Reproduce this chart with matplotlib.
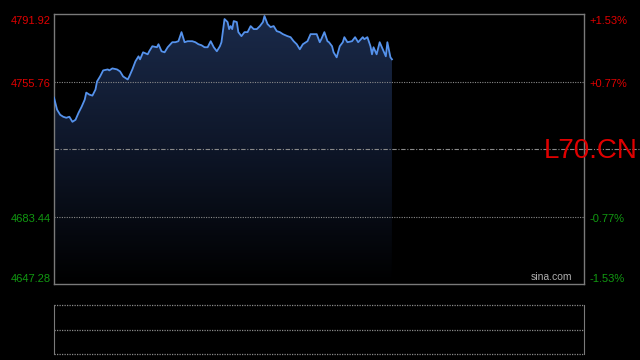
"""Intraday minute chart of L70.CN in the sina.com dark style."""

import matplotlib

matplotlib.use("Agg")
import matplotlib.pyplot as plt
import numpy as np
from matplotlib.colors import LinearSegmentedColormap
from matplotlib.lines import Line2D
from matplotlib.transforms import offset_copy

plt.rcParams["font.family"] = ["Liberation Sans", "DejaVu Sans"]

# minutes since session open (345-minute session) and last price
minutes = [
    0, 2, 4, 6, 8, 10, 12, 14, 16, 18, 20, 21, 23, 25, 27, 28, 30, 32, 35, 36,
    38, 41, 43, 45, 48, 49, 51, 53, 55, 56, 58, 61, 62, 64, 67, 68, 70, 72, 74,
    77, 79, 81, 83, 85, 87, 90, 92, 94, 96, 98, 100, 102, 104, 106, 108, 109,
    111, 113, 114, 115, 116, 117, 119, 120, 122, 124, 126, 128, 130, 132, 134,
    136, 137, 139, 141, 143, 145, 147, 149, 152, 154, 156, 158, 160, 162, 165,
    167, 169, 171, 173, 174, 176, 178, 179, 181, 182, 184, 186, 188, 189, 191,
    194, 196, 198, 201, 202, 204, 206, 207, 208, 210, 212, 214, 216, 217, 219,
    220,
]
prices = [
    4747.12, 4740.65, 4737.95, 4736.87, 4736.33, 4736.87, 4734.17, 4735.25,
    4739.03, 4742.27, 4746.05, 4749.82, 4748.74, 4748.20, 4751.44, 4755.76,
    4758.46, 4761.70, 4762.24, 4761.70, 4762.78, 4762.24, 4761.16, 4758.46,
    4756.84, 4758.46, 4762.24, 4766.55, 4769.25, 4767.63, 4771.41, 4770.33,
    4771.95, 4774.65, 4774.11, 4775.73, 4771.95, 4771.41, 4774.11, 4776.81,
    4776.81, 4777.35, 4782.21, 4776.81, 4777.35, 4777.35, 4776.81, 4775.73,
    4775.19, 4774.11, 4774.11, 4777.35, 4774.11, 4771.95, 4774.65, 4776.81,
    4789.22, 4787.60, 4783.82, 4785.44, 4783.82, 4788.14, 4787.60, 4782.21,
    4780.05, 4782.21, 4782.21, 4785.44, 4783.82, 4783.82, 4785.44, 4787.60,
    4790.84, 4786.52, 4784.90, 4785.44, 4782.74, 4782.21, 4781.13, 4780.05,
    4779.51, 4777.35, 4775.73, 4773.03, 4775.73, 4777.35, 4781.13, 4781.13,
    4781.13, 4776.81, 4778.43, 4782.21, 4777.35, 4776.81, 4774.65, 4771.41,
    4768.71, 4774.65, 4776.81, 4779.51, 4776.81, 4777.35, 4779.51, 4776.81,
    4779.51, 4778.43, 4779.51, 4774.65, 4770.33, 4774.11, 4770.33, 4776.81,
    4773.03, 4769.25, 4776.81, 4768.71, 4767.63,
]
session_minutes = 345
prev_close = 4719.60
left_ticks = [4791.92, 4755.76, 4683.44, 4647.28]
right_ticks = ["+1.53%", "+0.77%", "-0.77%", "-1.53%"]
symbol = "L70.CN"

RED = "#e00000"
GREEN = "#119911"
GRID = "#8a8a8a"
SPINE = "#7a7a7a"

fig = plt.figure(figsize=(6.4, 3.6), dpi=100, facecolor="black")
ax = fig.add_axes([54 / 640, 76 / 360, 530 / 640, 270 / 360], facecolor="black")
ax.set_xticks([])
ax.set_yticks([])
for spine in ax.spines.values():
    spine.set_color(SPINE)
    spine.set_linewidth(1.0)

# gradient area under the price line
gradient = np.linspace(0, 1, 256).reshape(-1, 1)
cmap = LinearSegmentedColormap.from_list("area", ["#000000", "#0e1628", "#1a2a4a"])
area = ax.fill_between(minutes, prices, left_ticks[-1], color="none", lw=0)
image = ax.imshow(
    gradient,
    cmap=cmap,
    origin="lower",
    aspect="auto",
    extent=(0, session_minutes, left_ticks[-1], left_ticks[0]),
    zorder=1,
)
image.set_clip_path(area.get_paths()[0], transform=ax.transData)
ax.set_xlim(0, session_minutes)
ax.set_ylim(left_ticks[-1], left_ticks[0])

for level in (left_ticks[1], left_ticks[2]):
    ax.axhline(level, color=GRID, lw=0.8, ls=(0, (1, 1.2)), zorder=2)

ax.plot(minutes, prices, color="#5592ec", lw=1.3, zorder=3)

# previous close line runs past the axes to the figure edge
mid_y = ax.transData.transform((0, prev_close))[1] / (fig.dpi * 3.6)
fig.add_artist(Line2D([54 / 640, 1.0], [mid_y, mid_y], color=GRID, lw=0.8,
                      ls=(0, (4, 1.5, 1, 1.5)), transform=fig.transFigure))

placements = [("top", -1.5), ("center", -1.5), ("center", -1.5), ("bottom", 0)]
for level, pct, (va, dy) in zip(left_ticks, right_ticks, placements):
    color = RED if level > prev_close else GREEN
    label_tf = offset_copy(ax.get_yaxis_transform(), fig=fig, x=0, y=dy, units="points")
    ax.text(-0.006, level, f"{level:.2f}", transform=label_tf,
            ha="right", va=va, fontsize=8, color=color)
    ax.text(1.011, level, pct, transform=label_tf,
            ha="left", va=va, fontsize=8, color=color)

fig.text(638 / 640, mid_y - 2.5 / 360, symbol, ha="right", va="center",
         fontsize=20, color=RED)
ax.text(0.978, 0.008, "sina.com", transform=ax.transAxes, ha="right", va="bottom",
        fontsize=7.5, color="#b0b0b0")

# empty volume panel below
vol = fig.add_axes([54 / 640, 6 / 360, 530 / 640, 49 / 360], facecolor="black")
vol.set_xticks([])
vol.set_yticks([])
for side in ("left", "right"):
    vol.spines[side].set_color(SPINE)
for side in ("top", "bottom"):
    vol.spines[side].set_visible(False)
for frac in (0.0, 0.5, 1.0):
    vol.axhline(frac, color=GRID, lw=0.9, ls=(0, (1, 1)), clip_on=False)
vol.set_ylim(0, 1)

fig.savefig("out.png", dpi=100, facecolor="black")
